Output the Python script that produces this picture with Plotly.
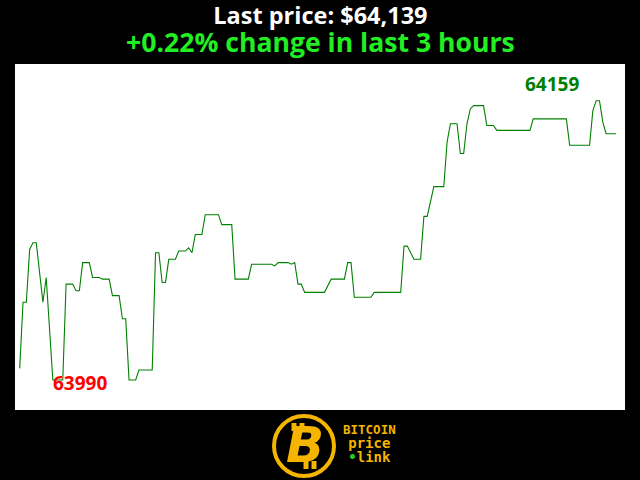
import plotly.graph_objects as go

# minutes since start of the 3-hour window, and BTC price (USD)
minutes = [0, 1, 2, 3, 4, 5, 7, 8, 10, 13, 14, 16, 17, 18, 19, 21, 22, 24, 25, 27,
           28, 30, 31, 32, 33, 35, 36, 40, 41, 42, 43, 44, 45, 47, 48, 50, 51, 52, 53, 55,
           56, 60, 61, 64, 65, 69, 70, 76, 77, 78, 81, 82, 83, 84, 85, 86, 92, 94, 98, 99,
           100, 101, 106, 107, 115, 116, 117, 119, 121, 122, 123, 125, 128, 129, 130, 132, 133, 134, 135, 136,
           137, 140, 141, 143, 144, 154, 155, 165, 166, 172, 173, 174, 175, 176, 177, 180]
prices = [63997, 64037, 64037, 64069, 64073, 64073, 64037, 64052, 63990, 63990, 64048, 64048, 64044, 64044, 64061, 64061, 64052, 64052, 64051, 64051,
          64041, 64041, 64027, 64027, 63990, 63990, 63996, 63996, 64067, 64067, 64049, 64049, 64063, 64063, 64068, 64068, 64070, 64067, 64078, 64078,
          64090, 64090, 64084, 64084, 64051, 64051, 64060, 64060, 64059, 64061, 64061, 64060, 64061, 64048, 64048, 64043, 64043, 64051, 64051, 64061,
          64061, 64040, 64040, 64043, 64043, 64071, 64071, 64063, 64063, 64089, 64089, 64107, 64107, 64134, 64145, 64145, 64127, 64127, 64145, 64154,
          64156, 64156, 64144, 64144, 64141, 64141, 64148, 64148, 64132, 64132, 64153, 64159, 64159, 64146, 64139, 64139]
hours = 3

first, last = prices[0], prices[-1]
pmin, pmax = min(prices), max(prices)
imin, imax = prices.index(pmin), prices.index(pmax)
change = (last - first) / first * 100

fig = go.Figure()
fig.add_trace(go.Scatter(x=minutes, y=prices, mode="lines",
                         line=dict(color="#008000", width=1.1), hoverinfo="skip"))

fig.add_annotation(x=minutes[imin], y=pmin, text=f"<b>{pmin}</b>", showarrow=False,
                   xanchor="left", yanchor="middle", yshift=-3, xshift=-2,
                   font=dict(family="Open Sans", size=19, color="#ff0000"))
fig.add_annotation(x=minutes[imax], y=pmax, text=f"<b>{pmax}</b>", showarrow=False,
                   xanchor="right", yanchor="middle", xshift=-15, yshift=17,
                   font=dict(family="Open Sans", size=19, color="#008000"))

H = 346.0
def py(pix):
    return (410 - pix) / H

title_text = (f"<b><span style='font-size:23.5px;color:white'>Last price: ${last:,}</span><br>"
              f"<span style='font-size:26.6px;color:#22ee22'>{change:+.2f}% change in last {hours} hours</span></b>")
fig.add_annotation(xref="paper", yref="paper", x=0.5, y=py(29), text=title_text,
                   showarrow=False, xanchor="center", yanchor="middle", borderpad=0,
                   font=dict(family="Open Sans", size=21.5, color="white"))

# logo
gold = "#f4b400"
mono = "DejaVu Sans Mono"
cx = (304 - 15) / 610.0
cy = py(446)
tx = (369 - 15) / 610.0
fig.add_shape(type="circle", xref="paper", yref="paper", xsizemode="pixel", ysizemode="pixel",
              xanchor=cx, yanchor=cy, x0=-30, x1=30, y0=-30, y1=30,
              line=dict(color=gold, width=4), fillcolor="black", layer="above")
for (bx, by0, by1) in [(-10, 15, 23), (-2, 15, 23), (2, -23, -15), (10, -23, -15)]:
    fig.add_shape(type="rect", xref="paper", yref="paper", xsizemode="pixel", ysizemode="pixel",
                  xanchor=cx, yanchor=cy, x0=bx - 2.5, x1=bx + 2.5, y0=by0, y1=by1,
                  line=dict(width=0), fillcolor=gold, layer="above")
fig.add_annotation(xref="paper", yref="paper", x=cx, y=cy, text="<b><i>B</i></b>", showarrow=False,
                   xanchor="center", yanchor="middle", yshift=1, xshift=1,
                   font=dict(family="DejaVu Sans", size=50, color=gold))
logo_text = ("<b><span style='font-size:12.5px'>BITCOIN</span><br>"
             "<span style='font-size:14px'>price</span><br>"
             "<span style='font-size:14px'><span style='color:#22cc22'>•</span>link</span></b>")
fig.add_annotation(xref="paper", yref="paper", x=tx, y=py(443), text=logo_text,
                   showarrow=False, xanchor="center", yanchor="middle", borderpad=0,
                   font=dict(family=mono, size=10.8, color=gold))

fig.update_layout(width=640, height=480, margin=dict(l=15, r=15, t=64, b=70),
                  paper_bgcolor="black", plot_bgcolor="white", showlegend=False)
fig.update_xaxes(visible=False, range=[-1.42, 182.7])
fig.update_yaxes(visible=False, range=[63971.8, 64181.2])

fig.write_html("out.html", config={"displayModeBar": False},
               post_script="document.body.style.margin='0';")
